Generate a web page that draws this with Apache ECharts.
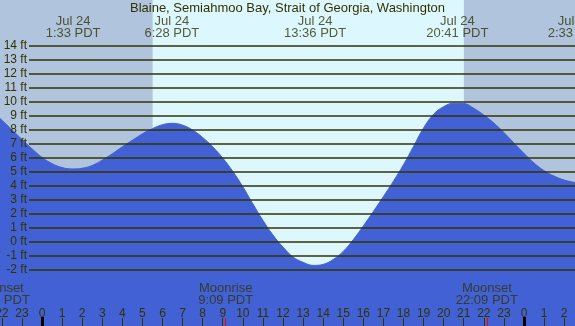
<!DOCTYPE html>
<html>
<head>
<meta charset="utf-8">
<script src="https://cdn.jsdelivr.net/npm/echarts@6/dist/echarts.min.js"></script>
<style>
  html, body { margin: 0; padding: 0; background: #b0c4de; }
  #chart { width: 575px; height: 326px; }
</style>
</head>
<body>
<div id="chart"></div>
<script>
// tide curve, hours from midnight Jul 24 (PDT) -> feet
const tideHours = [-2.09, -1.5, -1.0, -0.5, 0.0, 0.5, 1.0, 1.5, 2.0, 2.5, 3.0, 3.5, 4.0, 4.5, 5.0, 5.5, 6.0, 6.5, 7.0, 7.5, 8.0, 8.5, 9.0, 9.5, 10.0, 10.5, 11.0, 11.5, 12.0, 12.5, 13.0, 13.5, 14.0, 14.5, 15.0, 15.5, 16.0, 16.5, 17.0, 17.5, 18.0, 18.5, 19.0, 19.5, 20.0, 20.5, 21.0, 21.5, 22.0, 22.5, 23.0, 23.5, 24.0, 24.5, 25.0, 25.5, 26.0, 26.54];
const tideFeet = [8.78, 7.98, 7.28, 6.62, 6.0, 5.55, 5.27, 5.17, 5.22, 5.42, 5.8, 6.25, 6.75, 7.22, 7.68, 8.05, 8.33, 8.43, 8.3, 7.95, 7.42, 6.75, 5.95, 5.0, 3.9, 2.68, 1.5, 0.45, -0.41, -1.12, -1.5, -1.72, -1.65, -1.3, -0.72, 0.12, 1.1, 2.13, 3.2, 4.3, 5.47, 6.78, 8.1, 9.08, 9.62, 9.87, 9.85, 9.5, 9.02, 8.45, 7.77, 7.02, 6.28, 5.6, 5.05, 4.66, 4.38, 4.2];

// high / low tide times shown on top
const eventHours = [1.55, 6.467, 13.6, 20.683, 26.55];
const eventLabels = ['Jul 24\n1:33 PDT', 'Jul 24\n6:28 PDT', 'Jul 24\n13:36 PDT', 'Jul 24\n20:41 PDT', 'Jul 25\n2:33 PDT'];

// moon events shown at the bottom
const moonHours = [-2.15, 9.15, 22.15];
const moonLabels = ['Moonset\n21:51 PDT', 'Moonrise\n9:09 PDT', 'Moonset\n22:09 PDT'];

const sunrise = 5.51;
const sunset = 21.01;

const hourTicks = [-2, -1, 0, 1, 2, 3, 4, 5, 6, 7, 8, 9, 10, 11, 12, 13, 14, 15, 16, 17, 18, 19, 20, 21, 22, 23, 24, 25, 26];
const midnightTicks = [0, 24];
const ftMin = -2, ftMax = 14;

// visible window of the whole picture
const XMIN = -2.09, XMAX = 26.54;
const YMIN = -6.05, YMAX = 17.24;
const TOP_ROW = 15.31;   // ft level of the high/low labels
const MOON_ROW = -3.76;  // ft level of the moon labels

const ink = '#333300';
const font = 'Liberation Sans, Arial, sans-serif';

const chart = echarts.init(document.getElementById('chart'));

const tickAxis = (values, len, color, width, z) => ({
  type: 'value', gridIndex: 0, min: XMIN, max: XMAX, position: 'bottom', z: z,
  axisLine: { show: false, onZero: false }, splitLine: { show: false }, axisLabel: { show: false },
  axisTick: { show: true, inside: true, length: len, customValues: values, lineStyle: { color: color, width: width } }
});

chart.setOption({
  backgroundColor: '#b0c4de',
  animation: false,
  title: {
    text: 'Blaine, Semiahmoo Bay, Strait of Georgia, Washington',
    left: 'center',
    top: 1,
    padding: 0,
    textStyle: { fontSize: 13, fontWeight: 'normal', color: ink, fontFamily: font, lineHeight: 14 }
  },
  grid: [
    { left: 0, right: 0, top: 0, bottom: 0, outerBoundsMode: 'none', containLabel: false },
    { left: 29, right: 0, top: 45.3, bottom: 56.7, outerBoundsMode: 'none', containLabel: false }
  ],
  xAxis: [
    {
      type: 'value', gridIndex: 0, min: XMIN, max: XMAX, position: 'bottom', z: 10,
      axisLine: { show: false, onZero: false },
      splitLine: { show: false },
      axisTick: { show: true, inside: true, length: 8, customValues: hourTicks, lineStyle: { color: ink, width: 1 } },
      axisLabel: {
        show: true, inside: true, margin: 6, customValues: hourTicks,
        fontSize: 12, color: ink, fontFamily: font,
        formatter: v => String(((Math.round(v) % 24) + 24) % 24)
      }
    },
    tickAxis(midnightTicks, 9, '#000', 3, 11),
    tickAxis(moonHours, 8, '#ff0000', 1, 11),
    { type: 'value', gridIndex: 1, min: 0, max: 1, show: false, axisLine: { onZero: false } }
  ],
  yAxis: [
    { type: 'value', gridIndex: 0, min: YMIN, max: YMAX, show: false },
    {
      type: 'value', gridIndex: 1, min: ftMin, max: ftMax, interval: 1, z: 10,
      axisLine: { show: false }, axisTick: { show: false },
      axisLabel: { margin: 2, fontSize: 12, color: ink, fontFamily: font, formatter: '{value} ft' },
      splitLine: { show: true, lineStyle: { color: ink, width: 1.5 } }
    }
  ],
  series: [
    {
      name: 'tide',
      type: 'line',
      xAxisIndex: 0, yAxisIndex: 0,
      data: tideHours.map((h, i) => [h, tideFeet[i]]),
      smooth: 0.4,
      showSymbol: false,
      silent: true,
      lineStyle: { color: '#4161d4', width: 1 },
      areaStyle: { color: '#4161d4', opacity: 1, origin: 'start' },
      markArea: {
        silent: true,
        data: [
          [{ xAxis: XMIN, itemStyle: { color: '#b0c4de' } }, { xAxis: sunrise }],
          [{ xAxis: sunrise, itemStyle: { color: '#ddf7ff' } }, { xAxis: sunset }],
          [{ xAxis: sunset, itemStyle: { color: '#b0c4de' } }, { xAxis: XMAX }]
        ]
      }
    },
    {
      name: 'tide times',
      type: 'scatter',
      xAxisIndex: 0, yAxisIndex: 0,
      symbolSize: 0, clip: false, silent: true, z: 20,
      data: eventHours.map(h => [h, TOP_ROW]),
      label: {
        show: true, position: 'inside',
        fontSize: 13, lineHeight: 12, color: ink, fontFamily: font, align: 'center',
        formatter: p => eventLabels[p.dataIndex]
      }
    },
    {
      name: 'moon',
      type: 'scatter',
      xAxisIndex: 0, yAxisIndex: 0,
      symbolSize: 0, clip: false, silent: true, z: 20,
      data: moonHours.map(h => [h, MOON_ROW]),
      label: {
        show: true, position: 'inside',
        fontSize: 13, lineHeight: 12, color: ink, fontFamily: font, align: 'center',
        formatter: p => moonLabels[p.dataIndex]
      }
    }
  ]
});
</script>
</body>
</html>
